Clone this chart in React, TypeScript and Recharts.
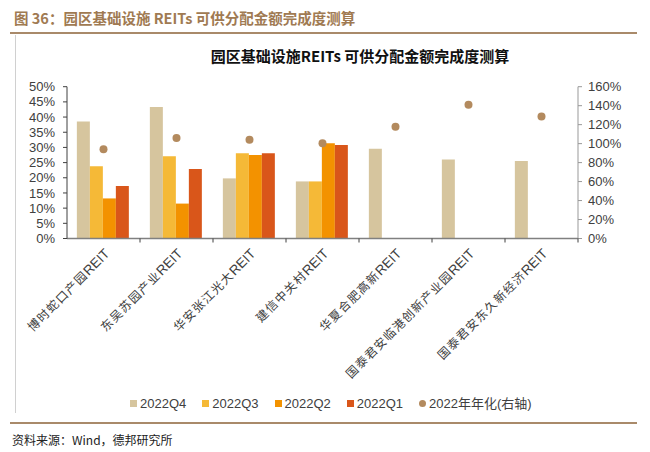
import React from "react";
import {
    ComposedChart,
    Bar,
    Line,
    XAxis,
    YAxis,
} from "recharts";

// 类别与数据（单位：%）
const categories = [
    "博时蛇口产园REIT",
    "东吴苏园产业REIT",
    "华安张江光大REIT",
    "建信中关村REIT",
    "华夏合肥高新REIT",
    "国泰君安临港创新产业园REIT",
    "国泰君安东久新经济REIT",
];
const q4 = [38.5, 43.3, 19.8, 18.8, 29.6, 26.0, 25.5];
const q3 = [23.8, 27.1, 28.1, 18.8, null, null, null];
const q2 = [13.2, 11.5, 27.5, 31.4, null, null, null];
const q1 = [17.3, 22.9, 28.1, 30.8, null, null, null];
const annual = [94.2, 105.8, 104.0, 100.5, 117.7, 141.0, 128.6];

const leftTicks = [0, 5, 10, 15, 20, 25, 30, 35, 40, 45, 50];
const rightTicks = [0, 20, 40, 60, 80, 100, 120, 140, 160];

const series = [
    { key: "q4", name: "2022Q4", color: "#D6C59E" },
    { key: "q3", name: "2022Q3", color: "#F5B937" },
    { key: "q2", name: "2022Q2", color: "#F39200" },
    { key: "q1", name: "2022Q1", color: "#D9561A" },
];
const dotColor = "#B38A5E";

const data = categories.map((name, i) => ({
    name,
    q4: q4[i],
    q3: q3[i],
    q2: q2[i],
    q1: q1[i],
    annual: annual[i],
}));

const cjk = '"Noto Sans CJK SC", sans-serif';
const latin = '"Liberation Sans", Arial, sans-serif';

function CategoryTick(props: any) {
    const { x, y, payload } = props;
    const half = payload.offset || 0;
    const axisY = y - 8;
    const label = String(payload.value);
    const head = label.replace("REIT", "");
    const tx = x + 3;
    const ty = y + 4;
    return (
        <g>
            <line
                x1={x + half}
                x2={x + half}
                y1={axisY}
                y2={axisY + 4}
                stroke="#404040"
                strokeWidth={1}
            />
            <text
                x={tx}
                y={ty}
                textAnchor="end"
                dy="0.35em"
                fill="#404040"
                transform={`rotate(-45 ${tx} ${ty})`}
            >
                <tspan fontFamily={cjk} fontSize={12} letterSpacing={1.2}>
                    {head}
                </tspan>
                <tspan fontFamily={latin} fontSize={13.5}>
                    REIT
                </tspan>
            </text>
        </g>
    );
}

export default function App() {
    return (
        <div
            style={{
                position: "absolute",
                left: 0,
                top: 0,
                width: 650,
                height: 452,
                background: "#fff",
                overflow: "hidden",
            }}
        >
            {/* 图表头 */}
            <div
                style={{
                    position: "absolute",
                    left: 14,
                    top: 8,
                    fontFamily: cjk,
                    fontWeight: 700,
                    fontSize: 14.5,
                    color: "#A07A52",
                    whiteSpace: "nowrap",
                    lineHeight: "20px",
                }}
            >
                图 36：园区基础设施 REITs 可供分配金额完成度测算
            </div>
            <div
                style={{
                    position: "absolute",
                    left: 10,
                    top: 32,
                    width: 627,
                    height: 2,
                    background: "#A98A6A",
                }}
            />
            <div
                style={{
                    position: "absolute",
                    left: 15,
                    top: 35,
                    width: 1,
                    height: 378,
                    background: "#d0d0d0",
                }}
            />

            {/* 图表标题 */}
            <div
                style={{
                    position: "absolute",
                    left: 160,
                    width: 400,
                    top: 46,
                    textAlign: "center",
                    fontFamily: cjk,
                    fontWeight: 700,
                    fontSize: 15,
                    color: "#111",
                    whiteSpace: "nowrap",
                    lineHeight: "20px",
                }}
            >
                园区基础设施REITs 可供分配金额完成度测算
            </div>

            <div style={{ position: "absolute", left: 0, top: 0 }}>
                <ComposedChart
                    width={650}
                    height={452}
                    data={data}
                    margin={{ top: 86.7, right: 12, bottom: 73.5, left: 17 }}
                    barCategoryGap="13.5%"
                    barGap={0}
                >
                    <XAxis
                        dataKey="name"
                        interval={0}
                        height={140}
                        tickLine={false}
                        tickSize={4}
                        tickMargin={4}
                        axisLine={{ stroke: "#808080", strokeWidth: 1.5 }}
                        tick={<CategoryTick />}
                    />
                    <YAxis
                        yAxisId="left"
                        width={50}
                        domain={[0, 50]}
                        ticks={leftTicks}
                        interval={0}
                        tickFormatter={(v: number) => `${v}%`}
                        tickSize={4}
                        tickMargin={8}
                        axisLine={{ stroke: "#404040" }}
                        tickLine={{ stroke: "#404040" }}
                        tick={{ fontSize: 13, fill: "#404040", fontFamily: latin }}
                    />
                    <YAxis
                        yAxisId="right"
                        orientation="right"
                        width={60}
                        domain={[0, 160]}
                        ticks={rightTicks}
                        interval={0}
                        tickFormatter={(v: number) => `${v}%`}
                        tickSize={4}
                        tickMargin={6}
                        axisLine={{ stroke: "#999" }}
                        tickLine={{ stroke: "#999" }}
                        tick={{ fontSize: 13, fill: "#404040", fontFamily: latin }}
                    />
                    {series.map((s) => (
                        <Bar
                            key={s.key}
                            yAxisId="left"
                            dataKey={s.key}
                            name={s.name}
                            fill={s.color}
                            isAnimationActive={false}
                        />
                    ))}
                    <Line
                        yAxisId="right"
                        dataKey="annual"
                        name="2022年年化(右轴)"
                        stroke="none"
                        dot={{ r: 4, fill: dotColor, stroke: "none" }}
                        activeDot={false}
                        isAnimationActive={false}
                    />
                </ComposedChart>
            </div>

            {/* 图例 */}
            <div
                style={{
                    position: "absolute",
                    left: 130,
                    top: 395,
                    display: "flex",
                    alignItems: "center",
                    fontFamily: latin,
                    fontSize: 13,
                    color: "#404040",
                    whiteSpace: "nowrap",
                    lineHeight: "16px",
                }}
            >
                {series.map((s) => (
                    <div
                        key={s.key}
                        style={{ display: "flex", alignItems: "center", marginRight: 16 }}
                    >
                        <span
                            style={{
                                display: "inline-block",
                                width: 7,
                                height: 7,
                                background: s.color,
                                marginRight: 3,
                            }}
                        />
                        {s.name}
                    </div>
                ))}
                <div style={{ display: "flex", alignItems: "center" }}>
                    <span
                        style={{
                            display: "inline-block",
                            width: 7,
                            height: 7,
                            borderRadius: "50%",
                            background: dotColor,
                            marginRight: 3,
                        }}
                    />
                    <span>
                        2022
                        <span style={{ fontFamily: cjk }}>年年化</span>
                        (
                        <span style={{ fontFamily: cjk }}>右轴</span>)
                    </span>
                </div>
            </div>

            <div
                style={{
                    position: "absolute",
                    left: 10,
                    top: 422,
                    width: 627,
                    height: 2,
                    background: "#A98A6A",
                }}
            />
            <div
                style={{
                    position: "absolute",
                    left: 12,
                    top: 431,
                    fontFamily: cjk,
                    fontSize: 12,
                    color: "#222",
                    whiteSpace: "nowrap",
                    lineHeight: "18px",
                }}
            >
                资料来源：Wind，德邦研究所
            </div>
        </div>
    );
}
